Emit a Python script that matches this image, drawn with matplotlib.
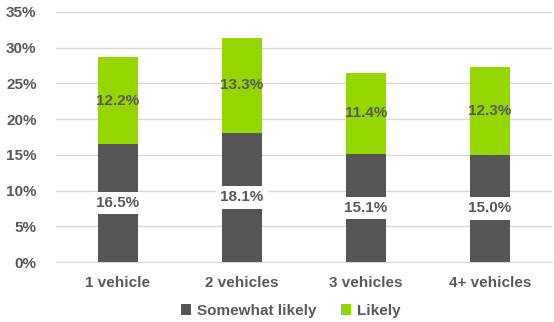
import matplotlib
matplotlib.use("Agg")
import matplotlib.pyplot as plt
from matplotlib.ticker import FuncFormatter

categories = ["1 vehicle", "2 vehicles", "3 vehicles", "4+ vehicles"]
somewhat_likely = [16.5, 18.1, 15.1, 15.0]
likely = [12.2, 13.3, 11.4, 12.3]
series_names = ["Somewhat likely", "Likely"]

plt.rcParams['font.family'] = ['Liberation Sans', 'DejaVu Sans']
txt = "#595959"
c_dark = "#555555"
c_green = "#96D600"
fs = 11

fig = plt.figure(figsize=(5.54, 3.22), dpi=100)
ax = fig.add_axes([0.101, 0.186, 0.895, 0.777])
x = range(len(categories))
w = 0.32
b1 = ax.bar(x, somewhat_likely, width=w, color=c_dark, label=series_names[0], zorder=3)
b2 = ax.bar(x, likely, width=w, bottom=somewhat_likely, color=c_green, label=series_names[1], zorder=3)

for i in x:
    ax.text(i, somewhat_likely[i] / 2, f"{somewhat_likely[i]:.1f}%", ha="center", va="center",
            fontsize=fs, fontweight="bold", color=txt, zorder=4,
            bbox=dict(facecolor="white", edgecolor="none", pad=3))
    ax.text(i, somewhat_likely[i] + likely[i] / 2, f"{likely[i]:.1f}%", ha="center", va="center",
            fontsize=fs, fontweight="bold", color=txt, zorder=4)

ax.set_ylim(0, 35)
ax.set_xlim(-0.5, 3.5)
ax.set_yticks(range(0, 36, 5))
ax.yaxis.set_major_formatter(FuncFormatter(lambda v, p: f"{v:.0f}%"))
ax.set_xticks(list(x))
ax.set_xticklabels(categories)
ax.grid(axis="y", color="#D9D9D9", linewidth=1, zorder=0)
for s in ["top", "right", "left"]:
    ax.spines[s].set_visible(False)
ax.spines["bottom"].set_color("#D9D9D9")
ax.tick_params(axis="both", length=0, colors=txt, labelsize=fs)
for lab in ax.get_xticklabels() + ax.get_yticklabels():
    lab.set_fontweight("bold")
ax.tick_params(axis="x", pad=10)
ax.tick_params(axis="y", pad=14)

leg = fig.legend(loc="lower center", bbox_to_anchor=(0.525, -0.03), ncol=2, frameon=False,
                 prop=dict(size=fs, weight="bold"), handlelength=0.65, handleheight=0.65,
                 columnspacing=1.6, handletextpad=0.4)
for t in leg.get_texts():
    t.set_color(txt)

fig.savefig("out.png", dpi=100)
